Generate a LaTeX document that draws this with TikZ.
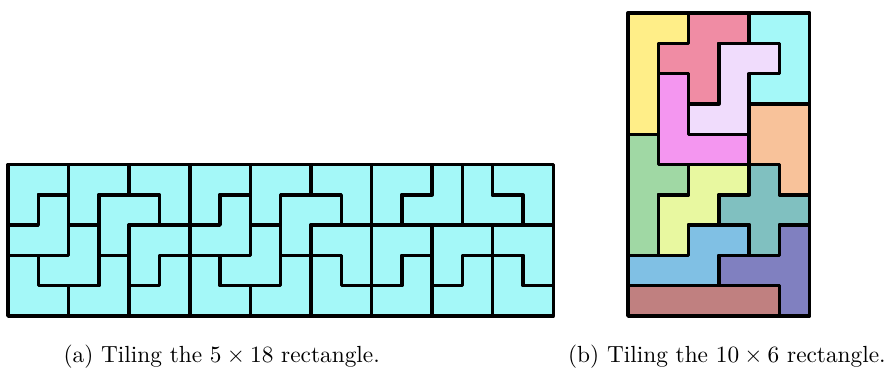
\documentclass[11pt,tikz,border=0pt]{standalone}
\usepackage{tikz}
\definecolor{tcyan}{HTML}{A4F8F8}
\definecolor{tyellow}{HTML}{FFEE88}
\definecolor{tpink}{HTML}{F08CA4}
\definecolor{tlav}{HTML}{F0DCFC}
\definecolor{tmag}{HTML}{F496F0}
\definecolor{tpeach}{HTML}{F8C29A}
\definecolor{tgreen}{HTML}{A0D8A4}
\definecolor{tlime}{HTML}{E8F8A0}
\definecolor{tteal}{HTML}{80C0C0}
\definecolor{tblue}{HTML}{80C0E4}
\definecolor{tpurple}{HTML}{8080C0}
\definecolor{trose}{HTML}{C08080}
\begin{document}
\begin{tikzpicture}[x=0.5cm,y=0.5cm, line join=round, line cap=round]
            \def\lw{1.6pt} \def\xr{20.46}
            \useasboundingbox (-0.264,-1.78) rectangle (29.11,10.43);
            % 5 x 18: L-trominoes, lower left corner of the 2x2 box / turn
            \foreach \x/\y/\a in {0/3/270,0/2/90,2/3/270,1/1/90,0/0/0,2/0/90,3/2/270,4/3/180,4/1/270,4/0/90,
                                  6/3/270,6/2/90,8/3/270,7/1/90,6/0/0,8/0/90,9/2/270,10/3/180,10/1/180,10/0/0,
                                  12/3/270,13/3/90,15/3/0,16/3/180,12/1/270,12/0/90,14/1/270,14/0/90,16/1/180,16/0/0}
                \filldraw[fill=tcyan, line width=\lw, shift={(\x+1,\y+1)}, rotate=\a]
                    (-1,-1) -- (1,-1) -- (1,0) -- (0,0) -- (0,1) -- (-1,1) -- cycle;
            % 10 x 6: the twelve pentominoes
            \begin{scope}[shift={(\xr,0)}, line width=\lw]
                \filldraw[fill=tyellow] (0,10) -- (2,10) -- (2,9) -- (1,9) -- (1,6) -- (0,6) -- cycle;
                \filldraw[fill=tpink] (2,10) -- (4,10) -- (4,9) -- (3,9) -- (3,7) -- (2,7) -- (2,8) -- (1,8) -- (1,9) -- (2,9) -- cycle;
                \filldraw[fill=tcyan] (4,10) -- (6,10) -- (6,7) -- (4,7) -- (4,8) -- (5,8) -- (5,9) -- (4,9) -- cycle;
                \filldraw[fill=tlav] (3,9) -- (5,9) -- (5,8) -- (4,8) -- (4,6) -- (2,6) -- (2,7) -- (3,7) -- cycle;
                \filldraw[fill=tmag] (1,8) -- (2,8) -- (2,6) -- (4,6) -- (4,5) -- (1,5) -- cycle;
                \filldraw[fill=tpeach] (4,7) -- (6,7) -- (6,4) -- (5,4) -- (5,5) -- (4,5) -- cycle;
                \filldraw[fill=tgreen] (0,6) -- (1,6) -- (1,5) -- (2,5) -- (2,4) -- (1,4) -- (1,2) -- (0,2) -- cycle;
                \filldraw[fill=tlime] (2,5) -- (4,5) -- (4,4) -- (3,4) -- (3,3) -- (2,3) -- (2,2) -- (1,2) -- (1,4) -- (2,4) -- cycle;
                \filldraw[fill=tteal] (4,5) -- (5,5) -- (5,4) -- (6,4) -- (6,3) -- (5,3) -- (5,2) -- (4,2) -- (4,3) -- (3,3) -- (3,4) -- (4,4) -- cycle;
                \filldraw[fill=tblue] (2,3) -- (4,3) -- (4,2) -- (3,2) -- (3,1) -- (0,1) -- (0,2) -- (2,2) -- cycle;
                \filldraw[fill=tpurple] (5,3) -- (6,3) -- (6,0) -- (5,0) -- (5,1) -- (3,1) -- (3,2) -- (5,2) -- cycle;
                \filldraw[fill=trose] (0,1) -- (5,1) -- (5,0) -- (0,0) -- cycle;
            \end{scope}
            \node[anchor=base west, inner sep=0pt] (capa) at (1.82,-1.54) {(a) Tiling the $5\times18$ rectangle.};
            \node[anchor=base east, inner sep=0pt] (capb) at (28.98,-1.54) {(b) Tiling the $10\times6$ rectangle.};
        \end{tikzpicture}
\end{document}
